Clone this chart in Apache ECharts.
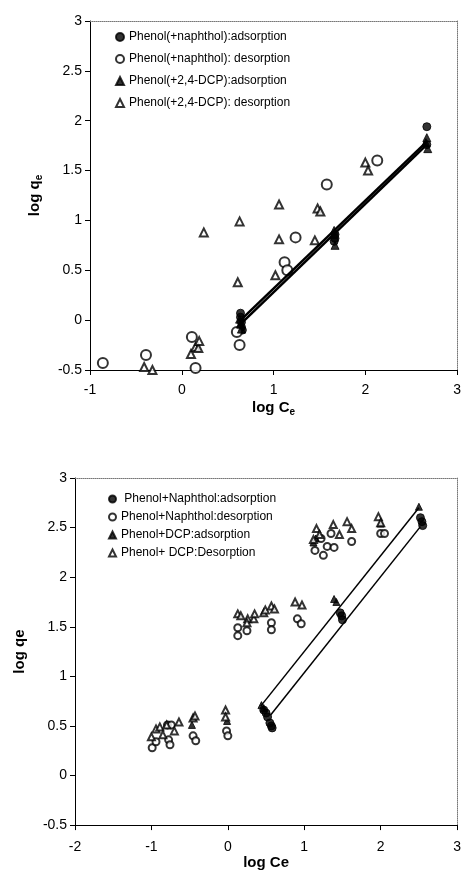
<!DOCTYPE html>
<html>
<head>
<meta charset="utf-8">
<script src="https://cdn.jsdelivr.net/npm/echarts@6/dist/echarts.min.js"></script>
<style>
html,body{margin:0;padding:0;background:#fff}
#chart{width:464px;height:871px}
</style>
</head>
<body>
<div id="chart"></div>
<script>
// ---- upper panel: phenol with naphthol / 2,4-DCP ----
const namesA = ['Phenol(+naphthol):adsorption', 'Phenol(+naphthol): desorption', 'Phenol(+2,4-DCP):adsorption', 'Phenol(+2,4-DCP): desorption']
const napAdsA = [[2.67,1.94],[0.64,0.07],[0.64,0.03],[0.65,-0.02],[0.65,-0.07],[0.66,-0.1],[1.67,0.86],[1.67,0.82],[1.66,0.79],[2.67,1.76]]
const napDesA = [[-0.86,-0.43],[-0.39,-0.35],[0.11,-0.17],[0.15,-0.48],[0.6,-0.12],[0.63,-0.25],[1.12,0.58],[1.15,0.5],[1.24,0.83],[1.58,1.36],[2.13,1.6]]
const dcpAdsA = [[0.63,0.01],[0.64,-0.04],[0.65,-0.09],[1.66,0.9],[1.67,0.75],[1.66,0.86],[2.67,1.83],[2.68,1.72],[2.66,1.78]]
const dcpDesA = [[-0.41,-0.47],[-0.32,-0.5],[0.1,-0.34],[0.15,-0.27],[0.18,-0.28],[0.19,-0.21],[0.24,0.88],[0.63,0.99],[0.61,0.38],[1.02,0.45],[1.06,0.81],[1.06,1.16],[1.45,0.8],[1.48,1.12],[1.51,1.09],[2.0,1.58],[2.03,1.5]]
const fitNapA = [[0.64,-0.04],[2.67,1.76]]
const fitDcpA = [[0.63,-0.01],[2.67,1.79]]

// ---- lower panel ----
const namesB = [' Phenol+Naphthol:adsorption', 'Phenol+Naphthol:desorption', 'Phenol+DCP:adsorption', 'Phenol+ DCP:Desorption']
const napAdsB = [[0.47,0.66],[0.5,0.63],[0.52,0.59],[0.55,0.53],[0.57,0.5],[0.58,0.48],[1.47,1.64],[1.49,1.61],[1.5,1.57],[2.52,2.6],[2.54,2.56],[2.55,2.52]]
const napDesB = [[-0.99,0.28],[-0.94,0.34],[-0.79,0.51],[-0.74,0.51],[-0.775,0.36],[-0.757,0.31],[-0.455,0.4],[-0.42,0.35],[-0.017,0.45],[0,0.4],
  [0.13,1.49],[0.13,1.41],[0.25,1.46],[0.57,1.54],[0.57,1.47],[0.91,1.58],[0.96,1.53],
  [1.14,2.27],[1.25,2.22],[1.22,2.39],[1.3,2.31],[1.35,2.44],[1.39,2.3],[1.62,2.36],[2.0,2.44],[2.05,2.44]]
const dcpAdsB = [[0.44,0.71],[0.47,0.68],[1.39,1.78],[1.42,1.75],[2.5,2.71],[1.12,2.35],[1.15,2.39],[2.0,2.54],[-0.47,0.51],[-0.01,0.55]]
const dcpDesB = [[-1.0,0.39],[-0.94,0.47],[-0.89,0.49],[-0.85,0.41],[-0.8,0.51],[-0.7,0.45],[-0.64,0.54],[-0.455,0.58],[-0.43,0.6],[-0.03,0.66],[-0.03,0.59],
  [0.13,1.63],[0.17,1.61],[0.26,1.58],[0.25,1.54],[0.34,1.58],[0.35,1.63],[0.47,1.64],[0.49,1.67],[0.57,1.71],[0.61,1.68],[0.88,1.75],[0.97,1.72],
  [1.16,2.49],[1.2,2.43],[1.38,2.53],[1.46,2.43],[1.56,2.56],[1.62,2.49],[1.97,2.61],[2.0,2.55],[1.12,2.38]]
const fitUpB = [[0.43,0.70],[2.5,2.70]]
const fitLowB = [[0.56,0.61],[2.52,2.51]]

const font = 'Liberation Sans, Arial, sans-serif'
const chart = echarts.init(document.getElementById('chart'))

// solid left/bottom axis with ticks and labels
function mainAxis (grid, pos, min, max, step, name, gap, labelMargin) {
  return {
    gridIndex: grid, type: 'value', position: pos,
    min: min, max: max, interval: step,
    axisLine: { show: true, onZero: false, lineStyle: { color: '#000', width: 1 } },
    axisTick: { show: true, length: 5, lineStyle: { color: '#000' } },
    axisLabel: { color: '#000', fontSize: 14, fontFamily: font, margin: labelMargin },
    splitLine: { show: false },
    name: name, nameLocation: 'middle', nameGap: gap,
    nameTextStyle: {
      color: '#000',
      rich: {
        a: { fontSize: 15, fontWeight: 'bold', fontFamily: font, color: '#000' },
        s: { fontSize: 10, fontWeight: 'bold', fontFamily: font, color: '#000', padding: [8, 0, 0, 0] }
      }
    }
  }
}
// dotted top/right frame edge
function frameAxis (grid, pos, min, max) {
  return {
    gridIndex: grid, type: 'value', position: pos, min: min, max: max,
    axisLine: { show: true, onZero: false, lineStyle: { color: '#777', width: 1, type: 'dotted' } },
    axisTick: { show: false }, axisLabel: { show: false }, splitLine: { show: false }
  }
}

function scatter (name, data, symbol, size, xi, yi) {
  return {
    type: 'scatter', name: name, data: data, symbol: symbol, symbolSize: size,
    xAxisIndex: xi, yAxisIndex: yi,
    itemStyle: { color: '#000', borderColor: '#000', borderWidth: 1 },
    emphasis: { disabled: true }, z: 3
  }
}
function fit (data, width, xi, yi) {
  return {
    type: 'line', data: data, xAxisIndex: xi, yAxisIndex: yi,
    symbol: 'none', lineStyle: { color: '#000', width: width }, z: 4, silent: true
  }
}

const option = {
  backgroundColor: '#fff',
  animation: false,
  grid: [
    { left: 90, top: 21, width: 369, height: 349 },
    { left: 75, top: 478, width: 385, height: 357 }
  ],
  xAxis: [
    mainAxis(0, 'bottom', -1, 3, 1, '{a|log C}{s|e}', 29, 13),
    frameAxis(0, 'top', -1, 3),
    mainAxis(1, 'bottom', -2, 3, 1, '{a|log Ce}', 28, 15),
    frameAxis(1, 'top', -2, 3)
  ],
  yAxis: [
    mainAxis(0, 'left', -0.5, 3, 0.5, '{a|log q}{s|e}', 46, 8),
    frameAxis(0, 'right', -0.5, 3),
    mainAxis(1, 'left', -0.5, 3, 0.5, '{a|log qe}', 48, 8),
    frameAxis(1, 'right', -0.5, 3)
  ],
  legend: [
    {
      data: namesA, orient: 'vertical', left: 110, top: 25,
      itemWidth: 8, itemHeight: 8, itemGap: 8,
      textStyle: { fontSize: 12, fontFamily: font, color: '#000', lineHeight: 14 },
      selectedMode: false
    },
    {
      data: namesB, orient: 'vertical', left: 103, top: 487,
      itemWidth: 7, itemHeight: 7, itemGap: 4,
      textStyle: { fontSize: 12, fontFamily: font, color: '#000', lineHeight: 14 },
      selectedMode: false
    }
  ],
  series: [
    scatter(namesA[0], napAdsA, 'circle', 8, 0, 0),
    scatter(namesA[1], napDesA, 'emptyCircle', 10, 0, 0),
    scatter(namesA[2], dcpAdsA, 'triangle', 8, 0, 0),
    scatter(namesA[3], dcpDesA, 'emptyTriangle', 8, 0, 0),
    fit(fitNapA, 2.5, 0, 0),
    fit(fitDcpA, 2.5, 0, 0),
    scatter(namesB[0], napAdsB, 'circle', 8, 2, 2),
    scatter(namesB[1], napDesB, 'emptyCircle', 7, 2, 2),
    scatter(namesB[2], dcpAdsB, 'triangle', 7, 2, 2),
    scatter(namesB[3], dcpDesB, 'emptyTriangle', 7, 2, 2),
    fit(fitUpB, 1.5, 2, 2),
    fit(fitLowB, 1.5, 2, 2)
  ]
}
chart.setOption(option)
</script>
</body>
</html>
